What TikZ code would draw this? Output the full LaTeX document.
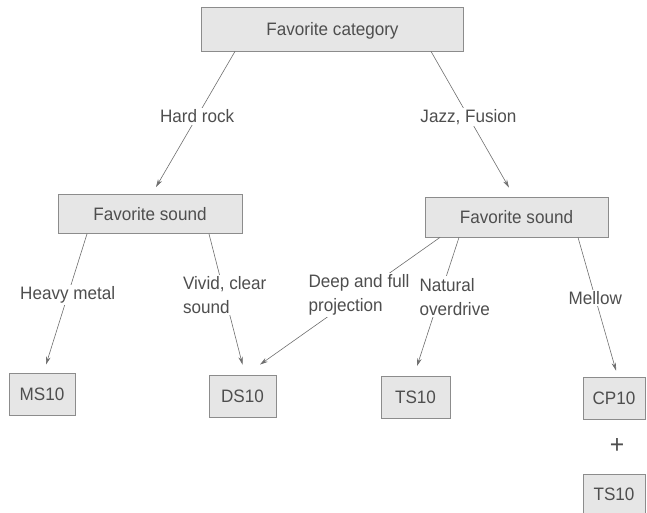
\documentclass[tikz,border=0pt]{standalone}
\usepackage{fontspec}
\setmainfont{Liberation Sans}[FakeStretch=0.95]
\usepackage{tikz}
\usetikzlibrary{arrows.meta,positioning}
\definecolor{boxfill}{HTML}{E6E6E6}
\definecolor{boxline}{HTML}{8C8C8C}
\definecolor{ink}{HTML}{4E4E4E}
\definecolor{linecol}{HTML}{6E6E6E}
\tikzset{
    every node/.style={text=ink, font=\fontsize{18}{24}\selectfont},
    choice/.style={
                draw=boxline,
                fill=boxfill,
                thick,
                inner sep=0pt,
                text depth=0pt
            },
    category/.style={choice, minimum width=262pt, minimum height=44pt},
    sound/.style={choice, minimum width=184pt, minimum height=39pt},
    pedal/.style={choice, minimum width=66pt, minimum height=42pt},
    link/.style={draw=linecol, semithick, -{Stealth[length=8pt,width=4.5pt]}},
    answer/.style={fill=white, inner sep=1.5pt, align=left}
}

\begin{document}
\begin{tikzpicture}[x=1pt, y=-1pt]
  \useasboundingbox (0,0) rectangle (647,513);
  % Question
  \node[category] (cat) at (332.5,29) {Favorite category};
  % Sub-questions
  \node[sound] (snd1) at (150,214) {Favorite sound};
  \node[sound, minimum width=183pt, minimum height=40pt] (snd2) at (516.5,217) {Favorite sound};
  % Pedals
  \node[pedal] (ms) at (42,394) {MS10};
  \node[pedal, minimum width=67pt] (ds) at (242.5,396) {DS10};
  \node[pedal, minimum width=69pt] (ts) at (415.5,397.5) {TS10};
  \node[pedal, minimum width=62pt] (cp) at (614,398) {CP10};
  \node (plus) at (617,446) {\fontsize{26}{26}\selectfont +};
  \node[pedal, minimum width=62pt, minimum height=40pt] (ts2) at (614,494) {TS10};
  % Answers
  \draw[link] ([xshift=-97.5pt]cat.south) -- node[answer, pos=.48] {Hard rock} ([xshift=6pt,yshift=7pt]snd1.north);
  \draw[link] ([xshift=98.5pt]cat.south) -- node[answer, pos=.48] {Jazz, Fusion} ([xshift=-7.5pt,yshift=9pt]snd2.north);
  \draw[link] ([xshift=-63pt]snd1.south) -- node[answer, pos=.47] {Heavy metal} ([xshift=4pt,yshift=8pt]ms.north);
  \draw[link] ([xshift=59pt]snd1.south) -- node[answer, pos=.47] {Vivid, clear\\sound} ([yshift=10pt]ds.north);
  \draw[link] ([xshift=-76.5pt]snd2.south) -- node[answer, pos=.45] {Deep and full\\projection} ([xshift=17.5pt,yshift=10pt]ds.north);
  \draw[link] ([xshift=-57.5pt]snd2.south) -- node[answer, pos=.46, xshift=15pt] {Natural\\overdrive} ([xshift=1.5pt,yshift=10pt]ts.north);
  \draw[link] ([xshift=61.5pt]snd2.south) -- node[answer, pos=.455] {Mellow} ([xshift=2pt,yshift=6pt]cp.north);
\end{tikzpicture}
\end{document}
